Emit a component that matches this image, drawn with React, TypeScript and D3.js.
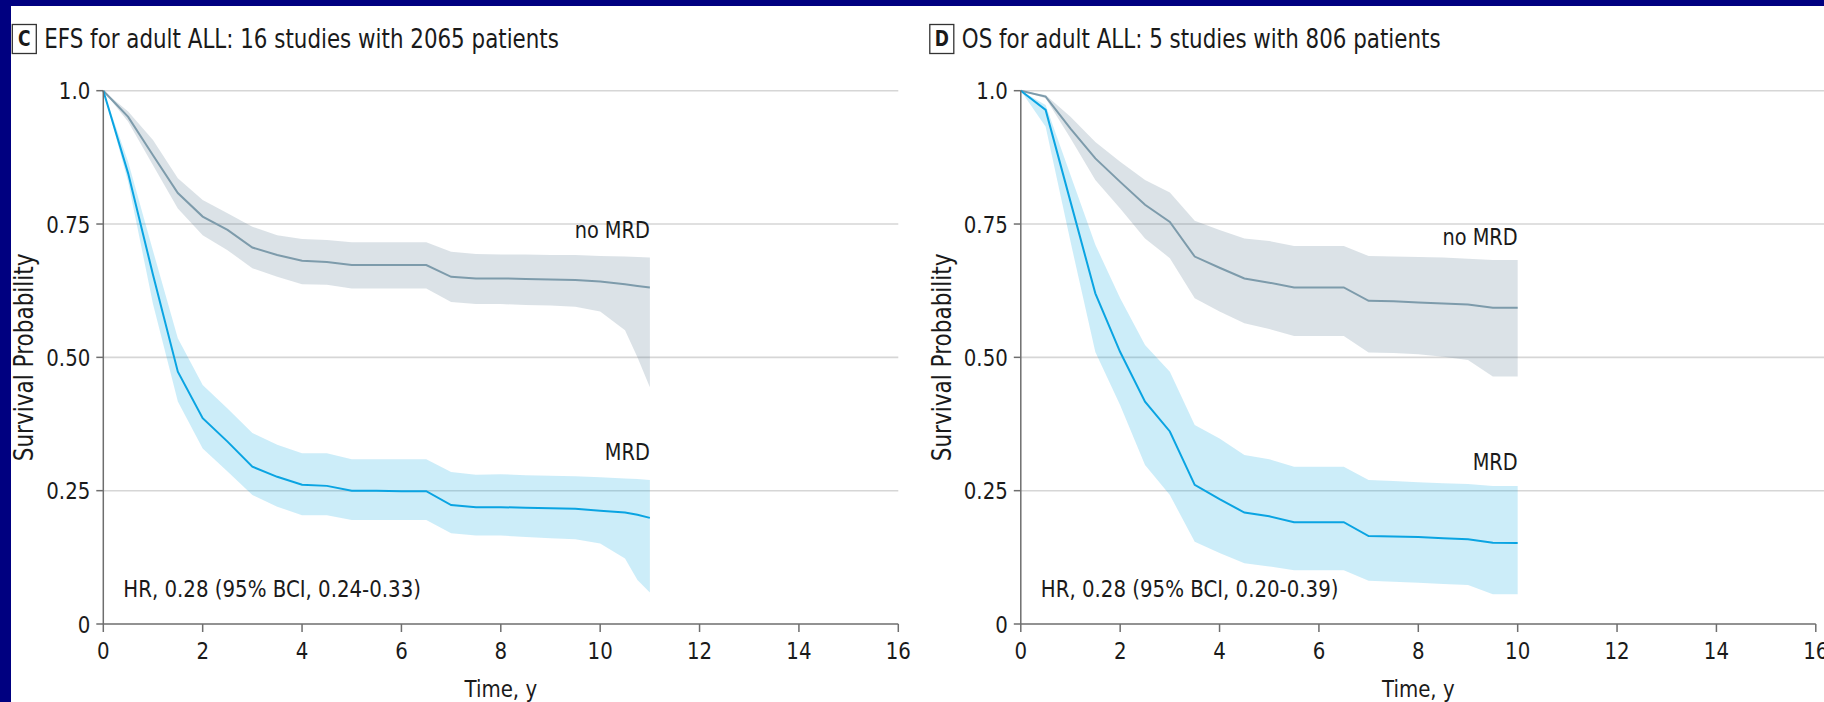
import React from 'react';
import * as d3 from 'd3';

const W = 1824;
const H = 702;

// Event-free survival, adult ALL (16 studies, 2065 patients)
const efsTimes = [0, 0.5, 1, 1.5, 2, 2.5, 3, 3.5, 4, 4.5, 5, 5.5, 6, 6.5, 7, 7.5, 8, 8.5, 9, 9.5, 10, 10.5, 10.75, 11];
const efsNoMrd = [1, 0.951, 0.879, 0.808, 0.764, 0.739, 0.706, 0.692, 0.681, 0.679, 0.673, 0.673, 0.673, 0.673, 0.651, 0.648, 0.648, 0.647, 0.646, 0.645, 0.642, 0.637, 0.634, 0.631];
const efsNoMrdUpper = [1, 0.961, 0.9075, 0.836, 0.795, 0.77, 0.745, 0.729, 0.722, 0.72, 0.716, 0.716, 0.716, 0.716, 0.698, 0.694, 0.693, 0.693, 0.692, 0.692, 0.69, 0.689, 0.688, 0.687];
const efsNoMrdLower = [1, 0.942, 0.86, 0.779, 0.729, 0.701, 0.667, 0.651, 0.637, 0.636, 0.629, 0.629, 0.629, 0.629, 0.604, 0.6, 0.6, 0.598, 0.597, 0.595, 0.586, 0.551, 0.5, 0.444];
const efsMrd = [1, 0.845, 0.655, 0.473, 0.386, 0.342, 0.295, 0.276, 0.261, 0.259, 0.25, 0.25, 0.249, 0.249, 0.223, 0.219, 0.219, 0.218, 0.217, 0.216, 0.2125, 0.209, 0.205, 0.199];
const efsMrdUpper = [1, 0.867, 0.7, 0.536, 0.448, 0.404, 0.358, 0.336, 0.32, 0.32, 0.309, 0.309, 0.309, 0.309, 0.285, 0.28, 0.281, 0.279, 0.278, 0.277, 0.275, 0.273, 0.272, 0.27];
const efsMrdLower = [1, 0.829, 0.6, 0.417, 0.329, 0.286, 0.242, 0.22, 0.204, 0.204, 0.195, 0.195, 0.195, 0.195, 0.17, 0.166, 0.166, 0.163, 0.161, 0.159, 0.151, 0.123, 0.0825, 0.059];

// Overall survival, adult ALL (5 studies, 806 patients)
const osTimes = [0, 0.5, 1, 1.5, 2, 2.5, 3, 3.5, 4, 4.5, 5, 5.5, 6, 6.5, 7, 7.5, 8, 8.5, 9, 9.5, 10];
const osNoMrd = [1, 0.989, 0.929, 0.873, 0.829, 0.786, 0.754, 0.689, 0.668, 0.648, 0.64, 0.631, 0.631, 0.631, 0.606, 0.605, 0.603, 0.601, 0.599, 0.593, 0.593];
const osNoMrdUpper = [1, 0.992, 0.951, 0.904, 0.867, 0.8325, 0.809, 0.756, 0.739, 0.723, 0.718, 0.709, 0.709, 0.709, 0.69, 0.689, 0.688, 0.687, 0.685, 0.6825, 0.6825];
const osNoMrdLower = [1, 0.986, 0.911, 0.8325, 0.779, 0.723, 0.686, 0.611, 0.586, 0.564, 0.553, 0.54, 0.54, 0.54, 0.509, 0.508, 0.506, 0.501, 0.495, 0.464, 0.464];
const osMrd = [1, 0.964, 0.792, 0.62, 0.51, 0.417, 0.361, 0.261, 0.234, 0.209, 0.202, 0.191, 0.191, 0.191, 0.165, 0.164, 0.163, 0.161, 0.159, 0.1525, 0.152];
const osMrdUpper = [1, 0.973, 0.842, 0.711, 0.611, 0.523, 0.473, 0.373, 0.348, 0.317, 0.309, 0.295, 0.295, 0.295, 0.27, 0.268, 0.266, 0.264, 0.2625, 0.259, 0.259];
const osMrdLower = [1, 0.9325, 0.717, 0.51, 0.41, 0.298, 0.242, 0.154, 0.133, 0.114, 0.108, 0.101, 0.101, 0.101, 0.081, 0.079, 0.0775, 0.075, 0.073, 0.0556, 0.0556];

const xTicks = [0, 2, 4, 6, 8, 10, 12, 14, 16];
const yTicks = [0, 0.25, 0.5, 0.75, 1];
const yTickLabels = ['0', '0.25', '0.50', '0.75', '1.0'];

const FONT = "'DejaVu Sans Condensed', 'DejaVu Sans', sans-serif";
const NAVY = '#000080';
const MRD_COLOR = '#0aa4e2';
const NOMRD_LINE = '#7d9bab';
const TEXT_STRETCH = 1.08;

type Series = { mid: number[]; lower: number[]; upper: number[] };

type TProps = {
  x: number;
  y: number;
  size: number;
  anchor?: 'start' | 'middle' | 'end';
  rotate?: number;
  dy?: string;
  bold?: boolean;
  children: React.ReactNode;
};

// Text drawn slightly taller than the condensed face's natural proportions
function T({ x, y, size, anchor = 'start', rotate = 0, dy, bold, children }: TProps) {
  return (
    <text
      transform={`translate(${x},${y}) rotate(${rotate}) scale(1,${TEXT_STRETCH})`}
      textAnchor={anchor}
      fontSize={size}
      dy={dy}
      fontWeight={bold ? 'bold' : 'normal'}
    >
      {children}
    </text>
  );
}

type PanelProps = {
  x0: number;
  gridRight: number;
  letter: string;
  title: string;
  hr: string;
  times: number[];
  noMrd: Series;
  mrd: Series;
  labelGap: number;
};

function Panel({ x0, gridRight, letter, title, hr, times, noMrd, mrd, labelGap }: PanelProps) {
  const x = d3.scaleLinear().domain([0, 16]).range([x0, x0 + 795]);
  const y = d3.scaleLinear().domain([0, 1]).range([624, 90.7]);

  const band = (s: Series) =>
    d3
      .area<number>()
      .x((t) => x(t))
      .y0((_, i) => y(s.lower[i]))
      .y1((_, i) => y(s.upper[i]))(times) || '';
  const line = (s: Series) =>
    d3
      .line<number>()
      .x((t) => x(t))
      .y((_, i) => y(s.mid[i]))(times) || '';

  const last = times.length - 1;
  const tEnd = times[last];

  return (
    <g fontFamily={FONT} style={{ fontStretch: 'condensed' }} fill="#1a1a1a">
      {/* panel heading */}
      <rect x={x0 - 91} y={24.5} width={24} height={29} fill="#fff" stroke="#333" strokeWidth={1.3} />
      <T x={x0 - 79} y={46} size={19} anchor="middle" bold>
        {letter}
      </T>
      <T x={x0 - 59} y={47.5} size={23.8}>
        {title}
      </T>

      {/* gridlines */}
      {yTicks.filter((v) => v > 0).map((v) => (
        <line key={v} x1={x0} x2={gridRight} y1={y(v)} y2={y(v)} stroke="#d6d6d6" strokeWidth={1.6} />
      ))}

      {/* confidence bands */}
      <path d={band(noMrd)} fill="#4a6f85" fillOpacity={0.2} />
      <path d={band(mrd)} fill="#00a3e0" fillOpacity={0.2} />

      {/* survival curves */}
      <path d={line(noMrd)} fill="none" stroke={NOMRD_LINE} strokeWidth={2} />
      <path d={line(mrd)} fill="none" stroke={MRD_COLOR} strokeWidth={2} />

      {/* axes */}
      <line x1={x0} x2={x0} y1={y(1)} y2={y(0)} stroke="#6e6e6e" strokeWidth={1.5} />
      <line x1={x0} x2={x(16)} y1={y(0)} y2={y(0)} stroke="#6e6e6e" strokeWidth={1.5} />
      {yTicks.map((v, i) => (
        <g key={v}>
          <line x1={x0 - 7} x2={x0} y1={y(v)} y2={y(v)} stroke="#6e6e6e" strokeWidth={1.5} />
          <T x={x0 - 13} y={y(v)} dy="0.36em" size={22} anchor="end">
            {yTickLabels[i]}
          </T>
        </g>
      ))}
      {xTicks.map((t) => (
        <g key={t}>
          <line x1={x(t)} x2={x(t)} y1={y(0)} y2={y(0) + 8} stroke="#6e6e6e" strokeWidth={1.5} />
          <T x={x(t)} y={659} size={22} anchor="middle">
            {t}
          </T>
        </g>
      ))}
      <T x={(x(0) + x(16)) / 2} y={697} size={22} anchor="middle">
        Time, y
      </T>
      <T x={x0 - 70} y={(y(0) + y(1)) / 2} size={24} anchor="middle" rotate={-90}>
        Survival Probability
      </T>

      {/* curve labels */}
      <T x={x(tEnd)} y={y(noMrd.upper[last]) - labelGap} size={21.5} anchor="end">
        no MRD
      </T>
      <T x={x(tEnd)} y={y(mrd.upper[last]) - labelGap} size={21.5} anchor="end">
        MRD
      </T>

      <T x={x0 + 20} y={597} size={22}>
        {hr}
      </T>
    </g>
  );
}

export default function App() {
  return (
    <svg
      width={W}
      height={H}
      viewBox={`0 0 ${W} ${H}`}
      style={{ position: 'absolute', left: 0, top: 0, display: 'block' }}
    >
      <rect x={0} y={0} width={W} height={H} fill={NAVY} />
      <rect x={11} y={6} width={W - 11} height={H - 6} fill="#fff" />
      <Panel
        x0={103.3}
        gridRight={898.3}
        letter="C"
        title="EFS for adult ALL: 16 studies with 2065 patients"
        hr="HR, 0.28 (95% BCI, 0.24-0.33)"
        times={efsTimes}
        noMrd={{ mid: efsNoMrd, lower: efsNoMrdLower, upper: efsNoMrdUpper }}
        mrd={{ mid: efsMrd, lower: efsMrdLower, upper: efsMrdUpper }}
        labelGap={20}
      />
      <Panel
        x0={1020.8}
        gridRight={W}
        letter="D"
        title="OS for adult ALL: 5 studies with 806 patients"
        hr="HR, 0.28 (95% BCI, 0.20-0.39)"
        times={osTimes}
        noMrd={{ mid: osNoMrd, lower: osNoMrdLower, upper: osNoMrdUpper }}
        mrd={{ mid: osMrd, lower: osMrdLower, upper: osMrdUpper }}
        labelGap={15.5}
      />
    </svg>
  );
}
